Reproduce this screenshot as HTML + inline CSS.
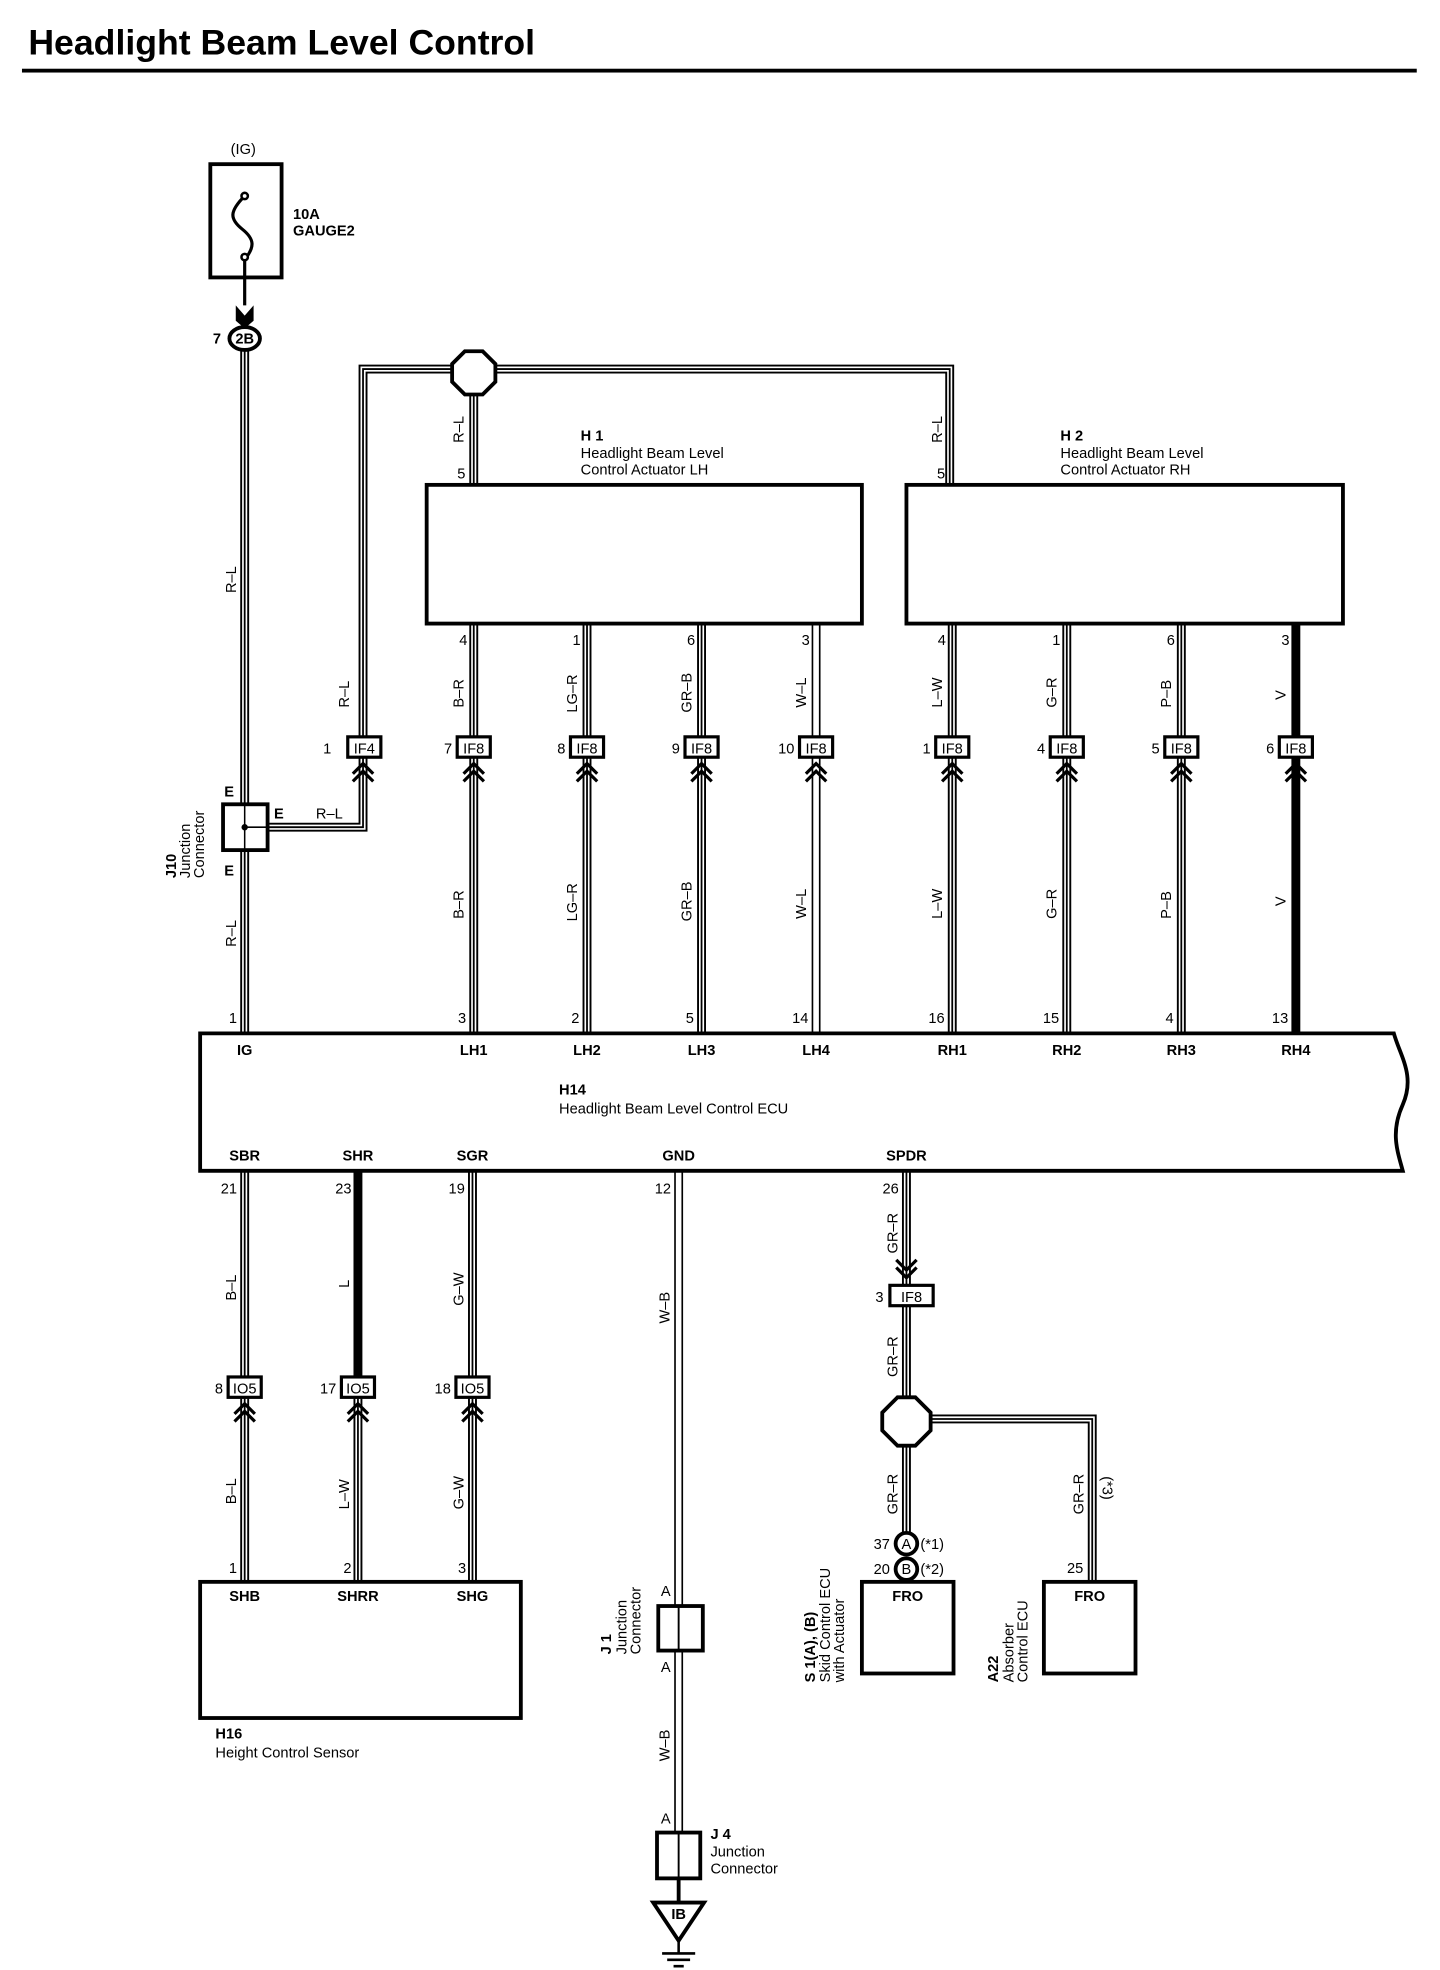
<!DOCTYPE html>
<html><head><meta charset="utf-8">
<style>
html,body{margin:0;padding:0;background:#fff;}
svg{display:block}
text{font-family:"Liberation Sans",Arial,sans-serif;fill:#000;}
.s{font-size:11.5px;}
.b{font-weight:bold;}
</style></head>
<body>
<svg width="1440" height="1970" viewBox="0 0 1131 1548" xmlns="http://www.w3.org/2000/svg">
<rect width="1131" height="1548" fill="#fff"/>
<text x="22" y="43" font-size="28" font-weight="bold">Headlight Beam Level Control</text>
<rect x="17" y="54" width="1096" height="3" fill="#000"/>

<defs>
<path id="chv" d="M-8 608 L0 600 L8 608 M-8 614 L0 606 L8 614"/>
<g id="wires" fill="none">
 <path d="M192 276 V812"/>
 <path d="M192 650 H285 V596"/>
 <path d="M285 578 V290 H746 V381"/>
 <path d="M372 290 V381"/>
 <path d="M372 490 V580 M372 596 V812"/>
 <path d="M461 490 V580 M461 596 V812"/>
 <path d="M551 490 V580 M551 596 V812"/>
 <path d="M748 490 V580 M748 596 V812"/>
 <path d="M838 490 V580 M838 596 V812"/>
 <path d="M928 490 V580 M928 596 V812"/>
 <path d="M192 920 V1083 M192 1099 V1243"/>
 <path d="M371 920 V1083 M371 1099 V1243"/>
 <path d="M281 1099 V1243"/>
 <path d="M712 920 V1010 M712 1026 V1205"/>
 <path d="M712 1115 H858 V1243"/>
</g>
</defs>
<use href="#wires" stroke="#000" stroke-width="7"/>
<use href="#wires" stroke="#fff" stroke-width="4"/>
<use href="#wires" stroke="#000" stroke-width="1.4"/>
<g fill="none">
 <path d="M641 490 V580 M641 596 V812 M533 920 V1262 M533 1297 V1440" stroke="#000" stroke-width="7"/>
 <path d="M641 490 V580 M641 596 V812 M533 920 V1262 M533 1297 V1440" stroke="#fff" stroke-width="4.4"/>
 <path d="M1018 490 V580 M1018 596 V812" stroke="#000" stroke-width="7"/>
 <path d="M281 920 V1083" stroke="#000" stroke-width="7"/>
</g>

<!-- fuse -->
<text x="181" y="121" class="s">(IG)</text>
<rect x="165" y="129" width="56" height="89" fill="none" stroke="#000" stroke-width="3"/>
<path d="M192 154 C180 166,180 172,190 180 C200 188,200 194,192 204 V240" fill="none" stroke="#000" stroke-width="2.5"/>
<circle cx="192" cy="154" r="2.5" fill="#fff" stroke="#000" stroke-width="2"/>
<circle cx="192" cy="202" r="2.5" fill="#fff" stroke="#000" stroke-width="2"/>
<text x="230" y="172" class="s b">10A</text>
<text x="230" y="185" class="s b">GAUGE2</text>
<path d="M185 240 L192 248 L199 240 V252 L192 258 L185 252Z" fill="#000"/>
<ellipse cx="192" cy="266" rx="12" ry="9" fill="#fff" stroke="#000" stroke-width="3"/>
<text x="192" y="270" class="s b" text-anchor="middle">2B</text>
<text x="167" y="270" class="s b">7</text>

<polygon points="365,276 379,276 389,286 389,300 379,310 365,310 355,300 355,286" fill="#fff" stroke="#000" stroke-width="3"/>

<!-- J10 -->
<rect x="175" y="632" width="35" height="36" fill="#fff" stroke="#000" stroke-width="3"/>
<path d="M192 632 V668 M192 650 H210" stroke="#000" stroke-width="1.2"/>
<circle cx="192" cy="650" r="2.5" fill="#000"/>
<text x="176" y="626" class="s b">E</text>
<text x="176" y="688" class="s b">E</text>
<text x="215" y="643" class="s b">E</text>
<text x="248" y="643" class="s">R–L</text>
<g transform="translate(138,690) rotate(-90)"><text class="s b">J10</text><text y="11" class="s">Junction</text><text y="22" class="s">Connector</text></g>

<rect x="335" y="381" width="342" height="109" fill="#fff" stroke="#000" stroke-width="3"/>
<rect x="712" y="381" width="343" height="109" fill="#fff" stroke="#000" stroke-width="3"/>
<text x="456" y="346" class="s b">H 1</text>
<text x="456" y="360" class="s">Headlight Beam Level</text>
<text x="456" y="373" class="s">Control Actuator LH</text>
<text x="833" y="346" class="s b">H 2</text>
<text x="833" y="360" class="s">Headlight Beam Level</text>
<text x="833" y="373" class="s">Control Actuator RH</text>
<text x="359" y="376" class="s">5</text>
<text x="736" y="376" class="s">5</text>
<g transform="translate(364,348) rotate(-90)"><text class="s">R–L</text></g>
<g transform="translate(740,348) rotate(-90)"><text class="s">R–L</text></g>
<g transform="translate(274,556) rotate(-90)"><text class="s">R–L</text></g>
<g transform="translate(185,466) rotate(-90)"><text class="s">R–L</text></g>
<g transform="translate(185,744) rotate(-90)"><text class="s">R–L</text></g>

<g class="s" text-anchor="end">
<text x="367" y="507">4</text><text x="456" y="507">1</text><text x="546" y="507">6</text><text x="636" y="507">3</text>
<text x="743" y="507">4</text><text x="833" y="507">1</text><text x="923" y="507">6</text><text x="1013" y="507">3</text>
</g>

<g fill="#fff" stroke="#000" stroke-width="2.5">
<rect x="273" y="579" width="26" height="16"/>
<rect x="359" y="579" width="26" height="16"/>
<rect x="448" y="579" width="26" height="16"/>
<rect x="538" y="579" width="26" height="16"/>
<rect x="628" y="579" width="26" height="16"/>
<rect x="735" y="579" width="26" height="16"/>
<rect x="825" y="579" width="26" height="16"/>
<rect x="915" y="579" width="26" height="16"/>
<rect x="1005" y="579" width="26" height="16"/>
<rect x="179" y="1082" width="26" height="16"/>
<rect x="268" y="1082" width="26" height="16"/>
<rect x="358" y="1082" width="26" height="16"/>
<rect x="699" y="1010" width="34" height="16"/>
</g>
<g class="s" text-anchor="middle">
<text x="286" y="592">IF4</text><text x="372" y="592">IF8</text><text x="461" y="592">IF8</text><text x="551" y="592">IF8</text><text x="641" y="592">IF8</text>
<text x="748" y="592">IF8</text><text x="838" y="592">IF8</text><text x="928" y="592">IF8</text><text x="1018" y="592">IF8</text>
<text x="192" y="1095">IO5</text><text x="281" y="1095">IO5</text><text x="371" y="1095">IO5</text>
<text x="716" y="1023">IF8</text>
</g>
<g class="s" text-anchor="end">
<text x="260" y="592">1</text><text x="355" y="592">7</text><text x="444" y="592">8</text><text x="534" y="592">9</text><text x="624" y="592">10</text>
<text x="731" y="592">1</text><text x="821" y="592">4</text><text x="911" y="592">5</text><text x="1001" y="592">6</text>
<text x="175" y="1095">8</text><text x="264" y="1095">17</text><text x="354" y="1095">18</text>
<text x="694" y="1023">3</text>
</g>
<g fill="none" stroke="#000" stroke-width="2.5">
<use href="#chv" x="285"/><use href="#chv" x="372"/><use href="#chv" x="461"/><use href="#chv" x="551"/><use href="#chv" x="641"/>
<use href="#chv" x="748"/><use href="#chv" x="838"/><use href="#chv" x="928"/><use href="#chv" x="1018"/>
<use href="#chv" x="192" y="503"/><use href="#chv" x="281" y="503"/><use href="#chv" x="371" y="503"/>
<path d="M704 990 L712 998 L720 990 M704 996 L712 1004 L720 996"/>
</g>

<g class="s">
<g transform="translate(364,556) rotate(-90)"><text>B–R</text></g>
<g transform="translate(453,560) rotate(-90)"><text>LG–R</text></g>
<g transform="translate(543,560) rotate(-90)"><text>GR–B</text></g>
<g transform="translate(633,556) rotate(-90)"><text>W–L</text></g>
<g transform="translate(740,556) rotate(-90)"><text>L–W</text></g>
<g transform="translate(830,556) rotate(-90)"><text>G–R</text></g>
<g transform="translate(920,556) rotate(-90)"><text>P–B</text></g>
<g transform="translate(1010,550) rotate(-90)"><text>V</text></g>
<g transform="translate(364,722) rotate(-90)"><text>B–R</text></g>
<g transform="translate(453,724) rotate(-90)"><text>LG–R</text></g>
<g transform="translate(543,724) rotate(-90)"><text>GR–B</text></g>
<g transform="translate(633,722) rotate(-90)"><text>W–L</text></g>
<g transform="translate(740,722) rotate(-90)"><text>L–W</text></g>
<g transform="translate(830,722) rotate(-90)"><text>G–R</text></g>
<g transform="translate(920,722) rotate(-90)"><text>P–B</text></g>
<g transform="translate(1010,712) rotate(-90)"><text>V</text></g>
<g transform="translate(185,1022) rotate(-90)"><text>B–L</text></g>
<g transform="translate(274,1012) rotate(-90)"><text>L</text></g>
<g transform="translate(364,1026) rotate(-90)"><text>G–W</text></g>
<g transform="translate(185,1182) rotate(-90)"><text>B–L</text></g>
<g transform="translate(274,1186) rotate(-90)"><text>L–W</text></g>
<g transform="translate(364,1186) rotate(-90)"><text>G–W</text></g>
<g transform="translate(526,1040) rotate(-90)"><text>W–B</text></g>
<g transform="translate(526,1384) rotate(-90)"><text>W–B</text></g>
<g transform="translate(705,985) rotate(-90)"><text>GR–R</text></g>
<g transform="translate(705,1082) rotate(-90)"><text>GR–R</text></g>
<g transform="translate(705,1190) rotate(-90)"><text>GR–R</text></g>
<g transform="translate(851,1190) rotate(-90)"><text>GR–R</text></g>
<g transform="translate(866,1160) rotate(90)"><text>(*3)</text></g>
</g>

<path d="M157 812 H1095 C1100 830,1112 845,1102 868 C1092 890,1098 905,1102 920 H157 Z" fill="#fff" stroke="#000" stroke-width="3"/>
<g class="s b" text-anchor="middle">
<text x="192" y="829">IG</text><text x="372" y="829">LH1</text><text x="461" y="829">LH2</text><text x="551" y="829">LH3</text><text x="641" y="829">LH4</text>
<text x="748" y="829">RH1</text><text x="838" y="829">RH2</text><text x="928" y="829">RH3</text><text x="1018" y="829">RH4</text>
<text x="192" y="912">SBR</text><text x="281" y="912">SHR</text><text x="371" y="912">SGR</text><text x="533" y="912">GND</text><text x="712" y="912">SPDR</text>
</g>
<g class="s" text-anchor="end">
<text x="186" y="804">1</text><text x="366" y="804">3</text><text x="455" y="804">2</text><text x="545" y="804">5</text><text x="635" y="804">14</text>
<text x="742" y="804">16</text><text x="832" y="804">15</text><text x="922" y="804">4</text><text x="1012" y="804">13</text>
<text x="186" y="938">21</text><text x="276" y="938">23</text><text x="365" y="938">19</text><text x="527" y="938">12</text><text x="706" y="938">26</text>
</g>
<text x="439" y="860" class="s b">H14</text>
<text x="439" y="875" class="s">Headlight Beam Level Control ECU</text>

<rect x="157" y="1243" width="252" height="107" fill="#fff" stroke="#000" stroke-width="3"/>
<g class="s b" text-anchor="middle"><text x="192" y="1258">SHB</text><text x="281" y="1258">SHRR</text><text x="371" y="1258">SHG</text></g>
<g class="s" text-anchor="end"><text x="186" y="1236">1</text><text x="276" y="1236">2</text><text x="366" y="1236">3</text></g>
<text x="169" y="1366" class="s b">H16</text>
<text x="169" y="1381" class="s">Height Control Sensor</text>

<rect x="517" y="1262" width="35" height="35" fill="#fff" stroke="#000" stroke-width="3"/>
<path d="M533 1262 V1297" stroke="#000" stroke-width="1.5"/>
<text x="519" y="1254" class="s">A</text><text x="519" y="1314" class="s">A</text>
<g transform="translate(480,1300) rotate(-90)"><text class="s b">J 1</text><text y="12" class="s">Junction</text><text y="23" class="s">Connector</text></g>
<rect x="516" y="1440" width="34" height="36" fill="#fff" stroke="#000" stroke-width="3"/>
<path d="M533 1440 V1476" stroke="#000" stroke-width="1.5"/>
<text x="519" y="1433" class="s">A</text>
<text x="558" y="1445" class="s b">J 4</text>
<text x="558" y="1459" class="s">Junction</text>
<text x="558" y="1472" class="s">Connector</text>
<path d="M533 1476 V1495" stroke="#000" stroke-width="3"/>
<polygon points="513,1495 553,1495 533,1525" fill="#fff" stroke="#000" stroke-width="3"/>
<text x="533" y="1508" class="s b" text-anchor="middle">IB</text>
<path d="M533 1525 V1535 M520 1535 H546 M524 1540 H542 M529 1545 H537" stroke="#000" stroke-width="2"/>

<polygon points="705,1098 719,1098 731,1110 731,1124 719,1136 705,1136 693,1124 693,1110" fill="#fff" stroke="#000" stroke-width="3"/>
<circle cx="712" cy="1213" r="8.5" fill="#fff" stroke="#000" stroke-width="3"/>
<circle cx="712" cy="1233" r="8.5" fill="#fff" stroke="#000" stroke-width="3"/>
<text x="712" y="1217" class="s" text-anchor="middle">A</text>
<text x="712" y="1237" class="s" text-anchor="middle">B</text>
<text x="723" y="1217" class="s">(*1)</text>
<text x="723" y="1237" class="s">(*2)</text>
<text x="699" y="1217" class="s" text-anchor="end">37</text>
<text x="699" y="1237" class="s" text-anchor="end">20</text>
<text x="851" y="1236" class="s" text-anchor="end">25</text>
<rect x="677" y="1243" width="72" height="72" fill="#fff" stroke="#000" stroke-width="3"/>
<rect x="820" y="1243" width="72" height="72" fill="#fff" stroke="#000" stroke-width="3"/>
<text x="713" y="1258" class="s b" text-anchor="middle">FRO</text>
<text x="856" y="1258" class="s b" text-anchor="middle">FRO</text>
<g transform="translate(640,1322) rotate(-90)"><text class="s b">S 1(A), (B)</text><text y="12" class="s">Skid Control ECU</text><text y="23" class="s">with Actuator</text></g>
<g transform="translate(784,1322) rotate(-90)"><text class="s b">A22</text><text y="12" class="s">Absorber</text><text y="23" class="s">Control ECU</text></g>
</svg>
</body></html>
